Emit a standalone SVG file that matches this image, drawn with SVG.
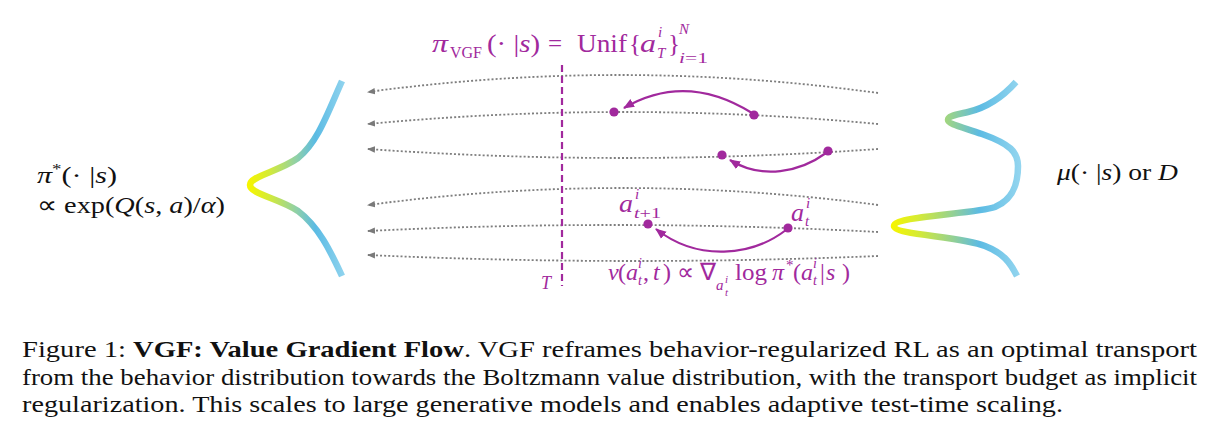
<svg xmlns="http://www.w3.org/2000/svg" width="1219" height="441" viewBox="0 0 1219 441">
<style>
.flow{fill:none;stroke:#7e7e7e;stroke-width:1.8;stroke-dasharray:2 2.1;marker-end:url(#ga)}
.mv{fill:none;stroke:#A1299D;stroke-width:2.2;marker-end:url(#ma)}
.dot{fill:#A1299D}
.m{font-family:"Liberation Serif","Times New Roman",serif;fill:#A1299D}
.k{font-family:"Liberation Serif","Times New Roman",serif;fill:#111}
.i{font-style:italic}
.cap{font-family:"Liberation Serif","Times New Roman",serif;font-size:23px;fill:#111}
.dist{fill:none;stroke-width:6.5;stroke-linecap:butt}
</style>
<defs>
<marker id="ga" markerUnits="userSpaceOnUse" markerWidth="10" markerHeight="8" refX="7" refY="4" orient="auto"><path d="M0,0.8 L8,4 L0,7.2 Z" fill="#7a7a7a"/></marker>
<marker id="ma" markerUnits="userSpaceOnUse" markerWidth="14" markerHeight="10" refX="10" refY="5" orient="auto"><path d="M0,0.5 L11,5 L0,9.5 Z" fill="#A1299D"/></marker>
<linearGradient id="gl" gradientUnits="userSpaceOnUse" x1="249" y1="0" x2="344" y2="0">
<stop offset="0" stop-color="#f6f500"/><stop offset="0.22" stop-color="#d2ea3a"/><stop offset="0.5" stop-color="#8fd0a8"/><stop offset="0.7" stop-color="#5bbbe4"/><stop offset="1" stop-color="#8fd3ee"/>
</linearGradient>
<linearGradient id="gr" gradientUnits="userSpaceOnUse" x1="892" y1="0" x2="1020" y2="0">
<stop offset="0" stop-color="#f6f500"/><stop offset="0.2" stop-color="#d6eb33"/><stop offset="0.45" stop-color="#9ad38a"/><stop offset="0.68" stop-color="#5cbbe3"/><stop offset="1" stop-color="#93d5ef"/>
</linearGradient>
</defs>

<g id="connectors">
<path class="flow" d="M878,93 Q622,57.5 368,92"/>
<path class="flow" d="M878,124 Q622,100 368,124"/>
<path class="flow" d="M878,149 Q622,167 368,149"/>
<path class="flow" d="M878,205 Q622,171 368,205"/>
<path class="flow" d="M878,232 Q622,218.5 368,231"/>
<path class="flow" d="M878,256 Q622,266.5 368,255"/>
<line x1="562" y1="65" x2="562" y2="286" stroke="#A1299D" stroke-width="2.2" stroke-dasharray="7 4"/>
<path class="mv" d="M752,113 C715,90 672,80 624,108"/>
<path class="mv" d="M826,153 C800,172 762,180 730,160"/>
<path class="mv" d="M786,230 C752,256 698,262 656,229"/>
</g>

<g id="points">
<circle class="dot" cx="614" cy="112" r="4.6"/>
<circle class="dot" cx="754" cy="115" r="4.6"/>
<circle class="dot" cx="722" cy="155" r="4.6"/>
<circle class="dot" cx="828" cy="151" r="4.6"/>
<circle class="dot" cx="648" cy="224" r="4.6"/>
<circle class="dot" cx="788" cy="228" r="4.6"/>
</g>

<g id="target-dist">
<path class="dist" stroke="url(#gl)" d="M342,81 C328,112 318,142 298,158 C278,172 250,176 250,185 C250,194 278,198 298,211 C318,226 330,250 342,276"/>
<text class="k" font-size="24" x="37" y="183" textLength="80" lengthAdjust="spacingAndGlyphs"><tspan class="i">π</tspan><tspan font-size="15" dy="-9">*</tspan><tspan dy="9">(· |</tspan><tspan class="i">s</tspan><tspan>)</tspan></text>
<text class="k" font-size="24" x="37" y="213" textLength="188" lengthAdjust="spacingAndGlyphs">∝ exp(<tspan class="i">Q</tspan>(<tspan class="i">s</tspan>, <tspan class="i">a</tspan>)/<tspan class="i">α</tspan>)</text>
</g>

<g id="behavior-dist">
<path class="dist" stroke="url(#gr)" d="M1016,82 C1000,100 985,108 968,112 C955,115 948,116 948,120 C948,124 962,127 982,134 C1010,144 1018,152 1018,166 C1018,186 1012,200 995,207 C975,214 894,216 894,226 C894,235 960,236 985,246 C1003,253 1010,262 1017,276"/>
<text class="k" font-size="24" x="1057" y="180" textLength="121" lengthAdjust="spacingAndGlyphs"><tspan class="i">μ</tspan>(· |<tspan class="i">s</tspan>) or <tspan class="i">D</tspan></text>
</g>

<g id="vgf-policy">
<text class="m i" font-size="25" x="432" y="52" textLength="16" lengthAdjust="spacingAndGlyphs">π</text>
<text class="m" font-size="16" x="450" y="58" textLength="32" lengthAdjust="spacingAndGlyphs">VGF</text>
<text class="m" font-size="25" x="487" y="52" textLength="53" lengthAdjust="spacingAndGlyphs">(· |<tspan class="i">s</tspan>)</text>
<text class="m" font-size="25" x="548" y="52">=</text>
<text class="m" font-size="25" x="577" y="52" textLength="50" lengthAdjust="spacingAndGlyphs">Unif</text>
<text class="m" font-size="25" x="629" y="52">{</text>
<text class="m i" font-size="25" x="640" y="52" textLength="16" lengthAdjust="spacingAndGlyphs">a</text>
<text class="m i" font-size="15" x="658" y="37">i</text>
<text class="m i" font-size="15" x="657" y="58">T</text>
<text class="m" font-size="25" x="668" y="52">}</text>
<text class="m i" font-size="15" x="679" y="34">N</text>
<text class="m" font-size="15" x="679" y="63" textLength="29" lengthAdjust="spacingAndGlyphs"><tspan class="i">i</tspan>=1</text>
</g>

<g id="time-label">
<text class="m i" font-size="18" x="541" y="289">T</text>
</g>

<g id="labels">
<text class="m i" font-size="25" x="619" y="212" textLength="14" lengthAdjust="spacingAndGlyphs">a</text>
<text class="m i" font-size="15" x="635" y="199">i</text>
<text class="m" font-size="15" x="634" y="218" textLength="27" lengthAdjust="spacingAndGlyphs"><tspan class="i">t</tspan>+1</text>
<text class="m i" font-size="25" x="791" y="221" textLength="13" lengthAdjust="spacingAndGlyphs">a</text>
<text class="m i" font-size="15" x="806" y="208">i</text>
<text class="m i" font-size="15" x="805" y="226">t</text>
</g>

<g id="velocity">
<text class="m i" font-size="24" x="608" y="280">v</text>
<text class="m" font-size="24" x="618" y="280">(</text>
<text class="m i" font-size="24" x="626" y="280">a</text>
<text class="m i" font-size="14" x="638" y="268">i</text>
<text class="m i" font-size="14" x="638" y="285">t</text>
<text class="m" font-size="24" x="643" y="280">,</text>
<text class="m i" font-size="24" x="653" y="280">t</text>
<text class="m" font-size="24" x="663" y="280">)</text>
<text class="m" font-size="24" x="677" y="280">∝</text>
<text class="m" font-size="24" x="700" y="280">∇</text>
<text class="m i" font-size="15" x="716" y="290">a</text>
<text class="m i" font-size="11" x="725" y="283">i</text>
<text class="m i" font-size="11" x="725" y="296">t</text>
<text class="m" font-size="24" x="735" y="280" textLength="32" lengthAdjust="spacingAndGlyphs">log</text>
<text class="m i" font-size="24" x="772" y="280">π</text>
<text class="m" font-size="15" x="786" y="270">*</text>
<text class="m" font-size="24" x="793" y="280">(</text>
<text class="m i" font-size="24" x="801" y="280">a</text>
<text class="m i" font-size="14" x="813" y="268">i</text>
<text class="m i" font-size="14" x="813" y="285">t</text>
<text class="m" font-size="24" x="820" y="280">|</text>
<text class="m i" font-size="24" x="826" y="280">s</text>
<text class="m" font-size="24" x="842" y="280">)</text>
</g>

<g id="caption">
<text class="cap" x="22" y="357" textLength="1175" lengthAdjust="spacingAndGlyphs">Figure 1:  <tspan font-weight="bold">VGF: Value Gradient Flow</tspan>.  VGF reframes behavior-regularized RL as an optimal transport</text>
<text class="cap" x="22" y="385" textLength="1175" lengthAdjust="spacingAndGlyphs">from the behavior distribution towards the Boltzmann value distribution, with the transport budget as implicit</text>
<text class="cap" x="22" y="412" textLength="1041" lengthAdjust="spacingAndGlyphs">regularization. This scales to large generative models and enables adaptive test-time scaling.</text>
</g>
</svg>
